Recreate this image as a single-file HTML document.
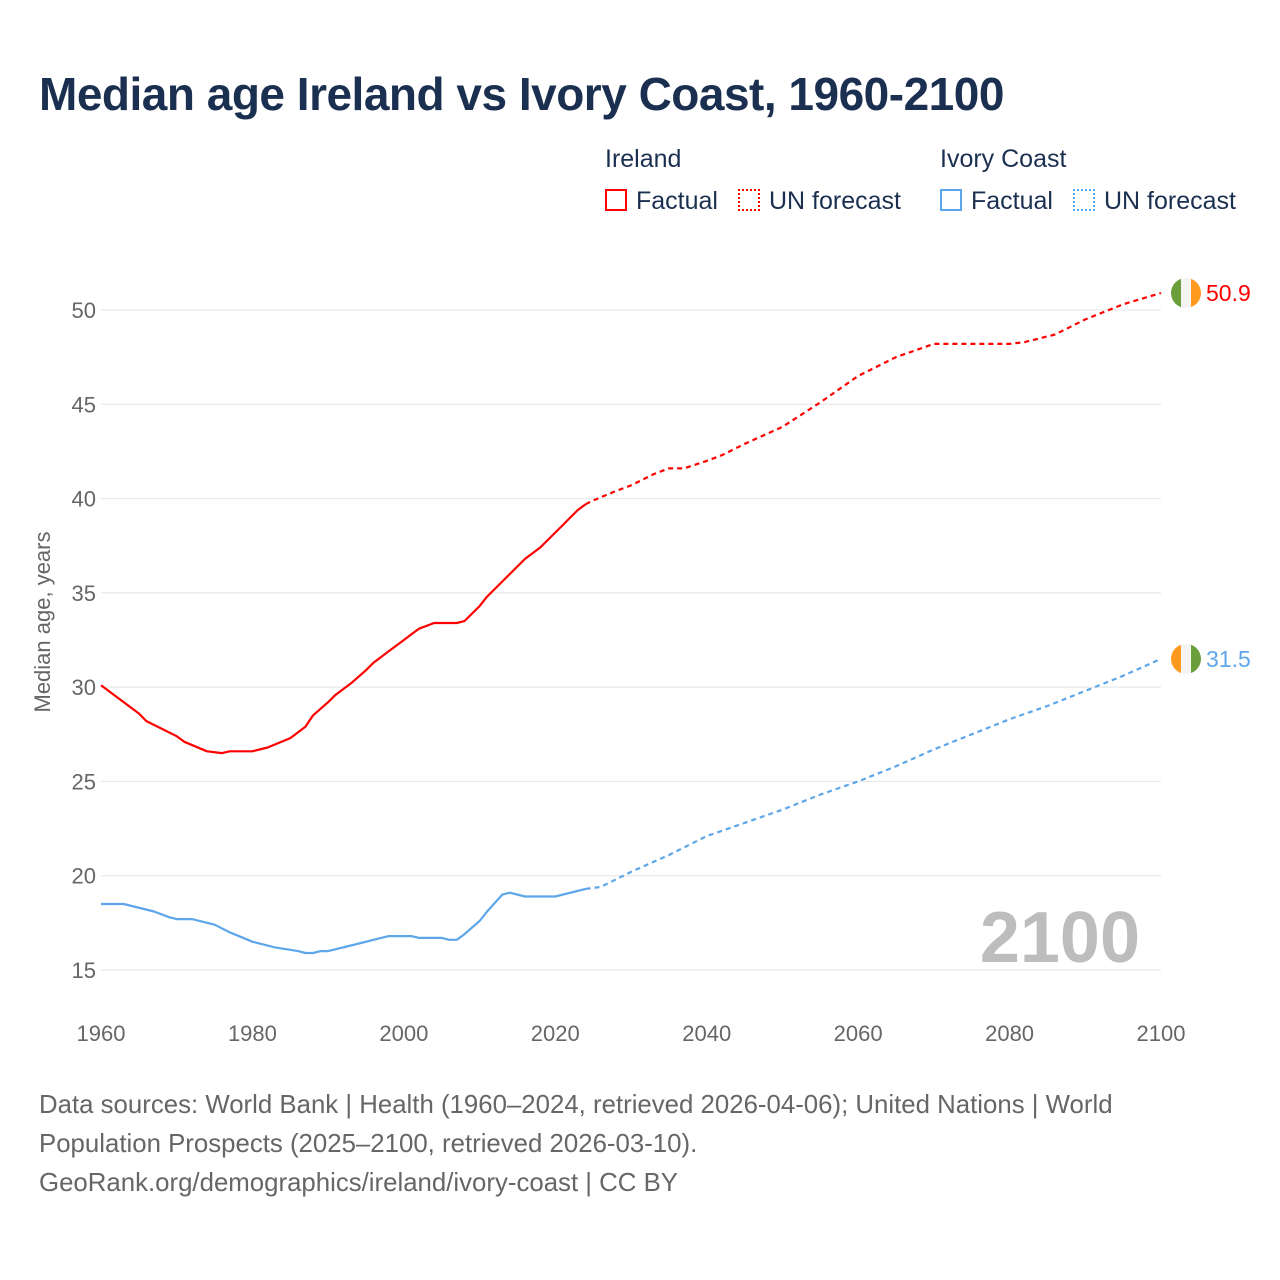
<!DOCTYPE html>
<html><head><meta charset="utf-8">
<style>
html,body{margin:0;padding:0;background:#fff;}
body{width:1280px;height:1280px;position:relative;font-family:"Liberation Sans",sans-serif;overflow:hidden;}
#title{position:absolute;left:39px;top:67px;font-size:46px;font-weight:bold;color:#1b3050;letter-spacing:-0.5px;margin:0;}
.lg{position:absolute;font-size:25px;color:#1b3050;}
.sw{position:absolute;width:22px;height:22px;box-sizing:border-box;}
#src{position:absolute;left:39px;top:1086px;font-size:25.8px;line-height:39px;color:#666;}
</style></head><body>
<h1 id="title">Median age Ireland vs Ivory Coast, 1960-2100</h1>
<div class="lg" style="left:605px;top:145px">Ireland</div>
<div class="sw" style="left:605px;top:189px;border:2px solid #ff0000"></div>
<div class="lg" style="left:636px;top:187px">Factual</div>
<div class="sw" style="left:738px;top:189px;border:2px dotted #ff0000"></div>
<div class="lg" style="left:769px;top:187px">UN forecast</div>
<div class="lg" style="left:940px;top:145px">Ivory Coast</div>
<div class="sw" style="left:940px;top:189px;border:2px solid #5ea6ea"></div>
<div class="lg" style="left:971px;top:187px">Factual</div>
<div class="sw" style="left:1073px;top:189px;border:2px dotted #5ea6ea"></div>
<div class="lg" style="left:1104px;top:187px">UN forecast</div>
<svg id="chart" width="1280" height="1280" style="position:absolute;left:0;top:0"></svg>
<div id="src">Data sources: World Bank | Health (1960–2024, retrieved 2026-04-06); United Nations | World<br>Population Prospects (2025–2100, retrieved 2026-03-10).<br>GeoRank.org/demographics/ireland/ivory-coast | CC BY</div>
<script>
const yTicks=[15,20,25,30,35,40,45,50];
const xTicks=[1960,1980,2000,2020,2040,2060,2080,2100];
const ieYears=[1960,1965,1966,1970,1971,1974,1976,1977,1980,1982,1985,1987,1988,1990,1991,1993,1995,1996,1998,2000,2001,2002,2004,2007,2008,2010,2011,2013,2016,2018,2021,2022,2023,2024];
const ieVals=[30.1,28.6,28.2,27.4,27.1,26.6,26.5,26.6,26.6,26.8,27.3,27.9,28.5,29.2,29.6,30.2,30.9,31.3,31.9,32.5,32.8,33.1,33.4,33.4,33.5,34.3,34.8,35.6,36.8,37.4,38.6,39.0,39.4,39.7];
const ieFYears=[2024,2025,2028,2030,2033,2035,2037,2040,2042,2045,2050,2055,2060,2065,2070,2075,2080,2082,2086,2090,2095,2100];
const ieFVals=[39.7,39.9,40.4,40.7,41.3,41.6,41.6,42.0,42.3,42.9,43.8,45.1,46.5,47.5,48.2,48.2,48.2,48.3,48.7,49.5,50.3,50.9];
const ciYears=[1960,1963,1967,1969,1970,1972,1975,1977,1980,1983,1986,1987,1988,1989,1990,1993,1996,1998,2001,2002,2005,2006,2007,2008,2010,2011,2013,2014,2016,2020,2024];
const ciVals=[18.5,18.5,18.1,17.8,17.7,17.7,17.4,17.0,16.5,16.2,16.0,15.9,15.9,16.0,16.0,16.3,16.6,16.8,16.8,16.7,16.7,16.6,16.6,16.9,17.6,18.1,19.0,19.1,18.9,18.9,19.3];
const ciFYears=[2024,2026,2030,2035,2040,2045,2050,2055,2060,2065,2070,2075,2080,2085,2090,2095,2100];
const ciFVals=[19.3,19.4,20.2,21.1,22.1,22.8,23.5,24.3,25.0,25.8,26.7,27.5,28.3,29.0,29.8,30.6,31.5];
const NS="http://www.w3.org/2000/svg";
const svg=document.getElementById('chart');
const X=y=>101+(y-1960)*(1060/140);
const Y=v=>970-(v-15)*(660/35);
function mk(t,a){const e=document.createElementNS(NS,t);for(const k in a)e.setAttribute(k,a[k]);svg.appendChild(e);return e;}
yTicks.forEach(v=>{
 const l=mk('line',{x1:101,x2:1161,y1:Y(v),y2:Y(v),stroke:'#e4e4e4','stroke-width':1});
 
 
 const t=mk('text',{x:96,y:Y(v)+8,'text-anchor':'end','font-size':22,fill:'#666'});t.textContent=v;
 
 
});
xTicks.forEach(v=>{
 const t=mk('text',{x:X(v),y:1041,'text-anchor':'middle','font-size':22,fill:'#666'});t.textContent=v;
 
 
});
const yt=mk('text',{x:0,y:0,transform:'translate(50,622) rotate(-90)','text-anchor':'middle','font-size':22,fill:'#666'});
yt.textContent='Median age, years';


const yr=mk('text',{x:1140,y:962,'text-anchor':'end','font-size':72,'font-weight':'bold',fill:'#bdbdbd'});
yr.textContent='2100';


function line(xs,vs,col,dash,name){
 const p=mk('path',{d:xs.map((x,i)=>(i?'L':'M')+X(x).toFixed(1)+','+Y(vs[i]).toFixed(1)).join(''),fill:'none',stroke:col,'stroke-width':2.2,'stroke-dasharray':dash?'5,4':'none','stroke-linejoin':'round'});
 
 
}
line(ieYears,ieVals,'#ff0000',false,'ireland-factual-line');
line(ieFYears,ieFVals,'#ff0000',true,'ireland-forecast-line');
line(ciYears,ciVals,'#5ea6ea',false,'ivory-factual-line');
line(ciFYears,ciFVals,'#5ea6ea',true,'ivory-forecast-line');
function flag(v,cols,name,col){
 const cy=Y(v),cx=1186,r=15;
 const g=document.createElementNS(NS,'g');svg.appendChild(g);
 
 
 const cid='c'+name;
 const cp=document.createElementNS(NS,'clipPath');cp.setAttribute('id',cid);
 const c=document.createElementNS(NS,'circle');c.setAttribute('cx',cx);c.setAttribute('cy',cy);c.setAttribute('r',r);cp.appendChild(c);g.appendChild(cp);
 cols.forEach((cl,i)=>{const rr=document.createElementNS(NS,'rect');rr.setAttribute('x',cx-r+i*10);rr.setAttribute('y',cy-r);rr.setAttribute('width',10.5);rr.setAttribute('height',2*r);rr.setAttribute('fill',cl);rr.setAttribute('clip-path','url(#'+cid+')');g.appendChild(rr);});
 const t=mk('text',{x:1206,y:cy+8,'font-size':23,fill:col});t.textContent=v.toFixed(1);
 
 
}
flag(ieFVals[ieFVals.length-1],['#6a9f3c','#f4f4f4','#ff9a1f'],'ireland','#ff0000');
flag(ciFVals[ciFVals.length-1],['#ff9a1f','#f4f4f4','#6a9f3c'],'ivory','#5ea6ea');
</script>
</body></html>
